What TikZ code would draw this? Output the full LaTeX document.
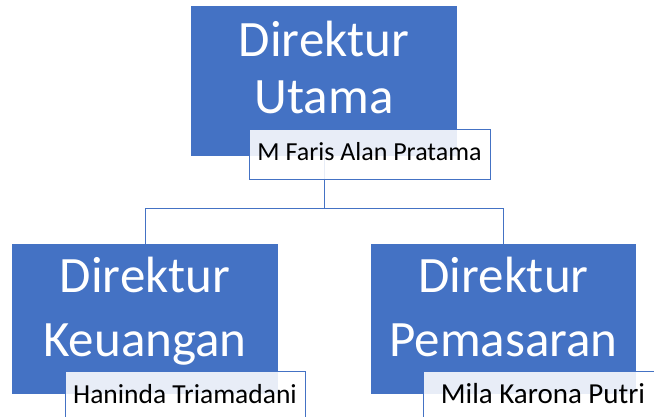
\documentclass[tikz,border=0pt]{standalone}
\usepackage{fontspec}
\setmainfont{Carlito}
\definecolor{accent}{HTML}{4472C4}
\begin{document}
\begin{tikzpicture}[x=1pt,y=-1pt,
  rolebox/.style={rectangle,fill=accent,draw=none,inner sep=0pt,minimum width=266pt,minimum height=150pt},
  roletext/.style={anchor=base,text=white,inner sep=0pt,font=\fontsize{51}{57}\selectfont},
  namebox/.style={rectangle,draw=accent,line width=0.9pt,fill=white,fill opacity=0.88,text opacity=1,
    minimum width=241pt,minimum height=50pt,inner sep=0pt,text height=18pt,text depth=4pt,
    font=\fontsize{27.5}{30}\selectfont,text=black},
  link/.style={draw=accent,line width=1pt}]
\useasboundingbox (0,0) rectangle (654,416);
\clip (0,0) rectangle (654,416);
\fill[white] (0,0) rectangle (654,416);
% role boxes
\node[rolebox] (ut) at (324,81) {};
\node[rolebox] (dk) at (145,319) {};
\node[rolebox,minimum width=265pt] (dp) at (503.5,319) {};
% titles
\node[roletext] (ut1) at (324,56) {Direktur};
\node[roletext] (ut2) at (324,113) {Utama};
\node[roletext] (dk1) at (145,292) {Direktur};
\node[roletext] (dk2) at (145,356) {Keuangan};
\node[roletext] (dp1) at (503.5,292) {Direktur};
\node[roletext] (dp2) at (503.5,356) {Pemasaran};
% connectors
\coordinate (j) at (324,208);
\draw[link] (ut.south) -- (j);
\draw[link] (j) -| (dk.north);
\draw[link] (j) -| (dp.north);
% name boxes
\node[namebox,text height=16pt,font=\fontsize{26}{30}\selectfont] (n1) at (369.5,154) {M Faris Alan Pratama};
\node[namebox,minimum width=240pt] (n2) at (185,396) {Haninda Triamadani};
\node[namebox,minimum width=240pt,font=\fontsize{29}{33}\selectfont] (n3) at (543,396) {Mila Karona Putri};
\end{tikzpicture}
\end{document}
